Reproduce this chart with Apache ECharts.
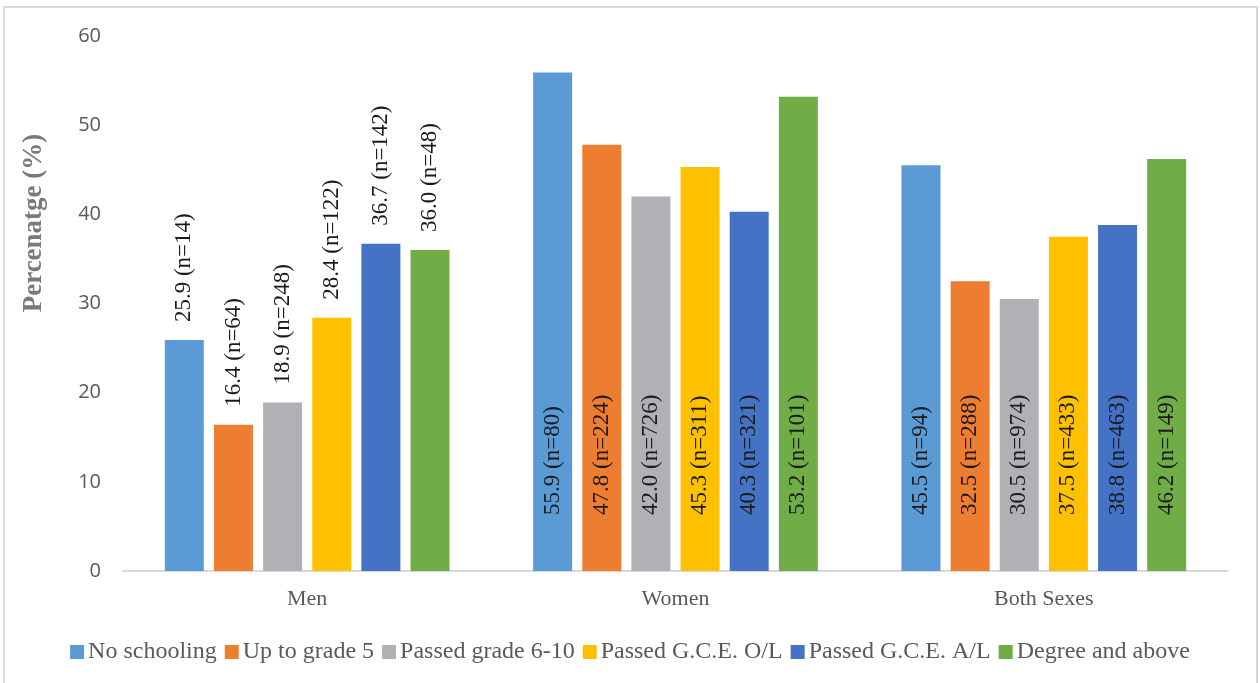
<!DOCTYPE html>
<html>
<head>
<meta charset="utf-8">
<script src="https://cdn.jsdelivr.net/npm/echarts@6/dist/echarts.min.js"></script>
<style>html,body{margin:0;padding:0;background:#fff}#c{width:1260px;height:683px}</style>
</head>
<body>
<div id="c"></div>
<script>
const groups = ['Men', 'Women', 'Both Sexes'];
const seriesNames = ['No schooling', 'Up to grade 5', 'Passed grade 6-10', 'Passed G.C.E. O/L', 'Passed G.C.E. A/L', 'Degree and above'];
const colors = ['#5B9BD5', '#ED7D31', '#B0B1B4', '#FFC000', '#4472C4', '#70AD47'];
const menValues = [25.9, 16.4, 18.9, 28.4, 36.7, 36.0];
const womenValues = [55.9, 47.8, 42.0, 45.3, 40.3, 53.2];
const bothValues = [45.5, 32.5, 30.5, 37.5, 38.8, 46.2];
const menN = [14, 64, 248, 122, 142, 48];
const womenN = [80, 224, 726, 311, 321, 101];
const bothN = [94, 288, 974, 433, 463, 149];
const yTicks = [0, 10, 20, 30, 40, 50, 60];

const valuesByGroup = [menValues, womenValues, bothValues];
const nByGroup = [menN, womenN, bothN];

const labelFont = {fontFamily: 'Liberation Serif', fontSize: 23, color: '#1a1a1a'};
const topLabel = Object.assign({show: true, position: 'top', rotate: 90, align: 'left', verticalAlign: 'middle', distance: 18}, labelFont);
const baseLabel = Object.assign({show: true, position: 'insideBottom', rotate: 90, align: 'left', verticalAlign: 'middle', distance: 56}, labelFont);

const series = seriesNames.map((name, i) => ({
  name: name,
  type: 'bar',
  barWidth: 39,
  barGap: '26%',
  itemStyle: {color: colors[i]},
  data: groups.map((g, j) => ({
    value: valuesByGroup[j][i],
    n: nByGroup[j][i],
    label: Object.assign({}, j === 0 ? topLabel : baseLabel, {
      formatter: valuesByGroup[j][i].toFixed(1) + ' (n=' + nByGroup[j][i] + ')'
    })
  }))
}));

const chart = echarts.init(document.getElementById('c'));
chart.setOption({
  animation: false,
  backgroundColor: '#fff',
  grid: {left: 123, right: 32, top: 36, bottom: 112, containLabel: false},
  legend: {
    data: seriesNames,
    left: 'center',
    top: 635,
    icon: 'rect',
    itemWidth: 14,
    itemHeight: 14,
    itemGap: 8,
    textStyle: {fontFamily: 'Liberation Serif', fontSize: 24, color: '#595959', padding: [0, 0, 0, -1]}
  },
  xAxis: {
    type: 'category',
    data: groups,
    axisLine: {lineStyle: {color: '#d9d9d9', width: 2}},
    axisTick: {show: false},
    axisLabel: {fontFamily: 'Liberation Serif', fontSize: 22, color: '#595959', margin: 17}
  },
  yAxis: {
    type: 'value',
    min: yTicks[0],
    max: yTicks[yTicks.length - 1],
    interval: 10,
    splitLine: {show: false},
    axisLine: {show: false},
    axisTick: {show: false},
    axisLabel: {fontFamily: 'Open Sans', fontSize: 20, color: '#595959', margin: 22}
  },
  graphic: [
    {type: 'rect', shape: {x: 4, y: 7, width: 1253, height: 700}, style: {fill: 'none', stroke: '#d9d9d9', lineWidth: 2}, silent: true},
    {type: 'text', x: 34, y: 223, rotation: Math.PI / 2,
      style: {text: 'Percenatge (%)', font: 'bold 27px "Liberation Serif"', fill: '#7a7a7a', align: 'center', verticalAlign: 'middle'}}
  ],
  series: series
});
</script>
</body>
</html>
